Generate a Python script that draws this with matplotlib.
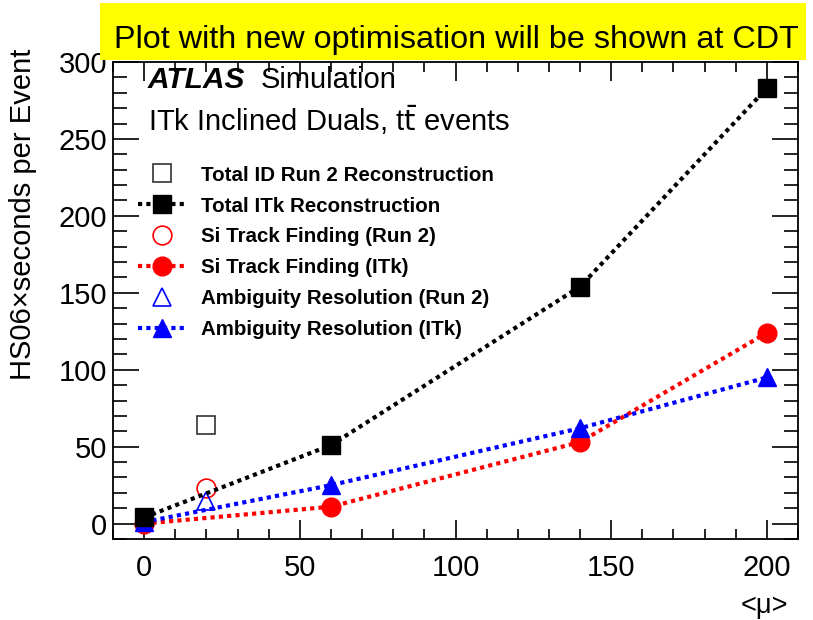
import matplotlib

matplotlib.use("Agg")
import matplotlib.pyplot as plt
from matplotlib.patches import Rectangle
from matplotlib.ticker import MultipleLocator

plt.rcParams["font.family"] = ["Liberation Sans", "DejaVu Sans"]

# pile-up values and timings (HS06 x seconds per event)
mu_itk = [0, 60, 140, 200]
total_itk = [4, 51, 154, 283]
si_itk = [0, 11, 53, 124]
ambi_itk = [1, 25, 62, 95]

mu_run2 = [20]
total_run2 = [64]
si_run2 = [23]
ambi_run2 = [15]

fig = plt.figure(figsize=(8.13, 6.2), dpi=100)
ax = fig.add_axes([113 / 813, 1 - 539 / 620, (798 - 113) / 813, (539 - 62) / 620])

dots = (0, (1, 1))
ms = 13.5
ax.plot(mu_run2, total_run2, ls="none", marker="s", ms=ms, mfc="white",
        mec="#333333", mew=1.2, label="Total ID Run 2 Reconstruction", zorder=3)
ax.plot(mu_itk, total_itk, ls=dots, lw=3, color="black", marker="s", ms=ms,
        label="Total ITk Reconstruction", zorder=4)
ax.plot(mu_run2, si_run2, ls="none", marker="o", ms=ms, mfc="none",
        mec="red", mew=1.2, label="Si Track Finding (Run 2)", zorder=3)
ax.plot(mu_itk, si_itk, ls=dots, lw=3, color="red", marker="o", ms=ms,
        label="Si Track Finding (ITk)", zorder=2)
ax.plot(mu_run2, ambi_run2, ls="none", marker="^", ms=ms, mfc="none",
        mec="blue", mew=1.2, label="Ambiguity Resolution (Run 2)", zorder=3)
ax.plot(mu_itk, ambi_itk, ls=dots, lw=3, color="blue", marker="^", ms=ms,
        label="Ambiguity Resolution (ITk)", zorder=3)

ax.set_xlim(-10, 210)
ax.set_ylim(-10, 300)
ax.xaxis.set_major_locator(MultipleLocator(50))
ax.xaxis.set_minor_locator(MultipleLocator(10))
ax.yaxis.set_major_locator(MultipleLocator(50))
ax.yaxis.set_minor_locator(MultipleLocator(10))
ax.tick_params(which="both", direction="in", top=True, right=True,
               labelsize=21, width=1.2)
ax.tick_params(axis="y", which="major", length=19, pad=4)
ax.tick_params(axis="y", which="minor", length=10)
ax.tick_params(axis="x", which="major", length=14, pad=11)
ax.tick_params(axis="x", which="minor", length=7)
for s in ax.spines.values():
    s.set_linewidth(1.3)

ax.text(0.051, 0.962, "ATLAS", transform=ax.transAxes, fontsize=21.5,
        fontweight="bold", fontstyle="italic", va="center")
ax.text(0.2155, 0.962, "Simulation", transform=ax.transAxes, fontsize=21,
        va="center")
ax.text(0.051, 0.878, r"ITk Inclined Duals, t$\bar{\mathrm{t}}$ events",
        transform=ax.transAxes, fontsize=21, va="center")

ax.legend(loc="upper left", bbox_to_anchor=(0.025, 0.80), frameon=False,
          prop={"weight": "bold", "size": 14.8}, handlelength=2.3,
          handletextpad=0.75, labelspacing=0.58, borderaxespad=0)

fig.text(23 / 813, 1 - 214 / 620, "HS06×seconds per Event", rotation=90,
         fontsize=21, ha="center", va="center")
fig.text(764 / 813, 1 - 606 / 620, "<μ>", fontsize=19.5, ha="center",
         va="center")

# yellow notice banner across the top
fig.patches.append(Rectangle((100 / 813, 1 - 60 / 620), 706 / 813, 57 / 620,
                             transform=fig.transFigure, facecolor="#ffff00",
                             edgecolor="none", zorder=10))
fig.text(456 / 813, 1 - 40 / 620, "Plot with new optimisation will be shown at CDT",
         fontsize=23.3, ha="center", va="center", zorder=11)

fig.savefig("out.png", dpi=100)
